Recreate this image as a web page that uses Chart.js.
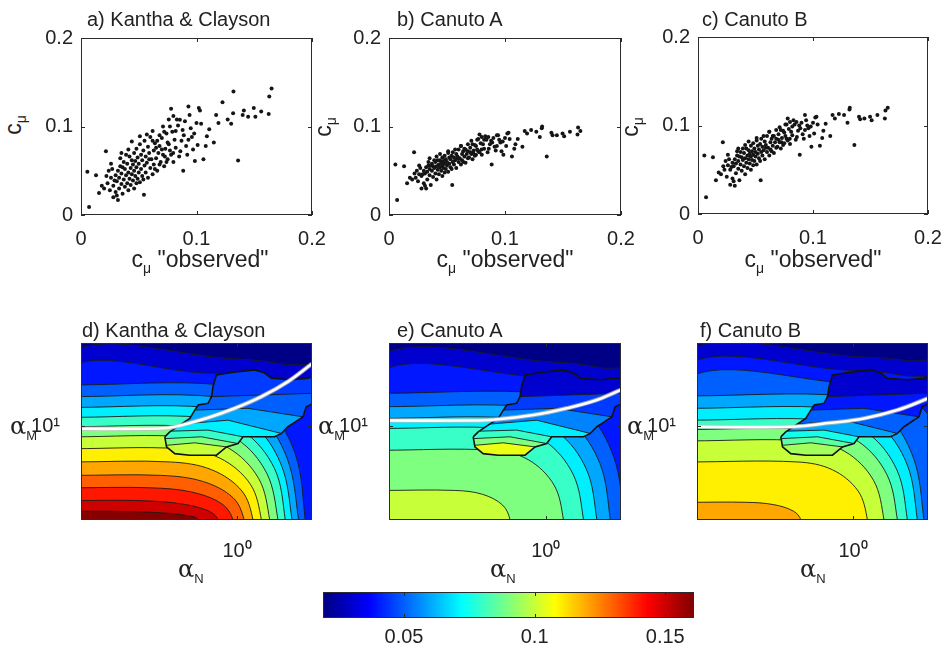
<!DOCTYPE html>
<html>
<head>
<meta charset="utf-8">
<title>c_mu model comparison</title>
<script src="https://cdn.jsdelivr.net/npm/chart.js@4/dist/chart.umd.min.js"></script>
<style>
  body { margin: 0; background: #fff; }
  #fig { position: relative; width: 946px; height: 649px; overflow: hidden;
         font-family: "Liberation Sans", Arial, sans-serif; color: #222; }
  #fig canvas { position: absolute; }
  .t  { position: absolute; font-size: 20px; line-height: 1; white-space: nowrap; }
  .xl { position: absolute; font-size: 23px; line-height: 1; white-space: nowrap; transform: translateX(-50%); }
  .yl { position: absolute; font-size: 23px; line-height: 1; white-space: nowrap; transform: translate(-50%, -50%) rotate(-90deg); }
  .al { position: absolute; font-family: "DejaVu Serif", serif; font-size: 24px; line-height: 1; white-space: nowrap; }
  .xl sub, .yl sub { font-size: 14px; }
  .al sub { font-family: "Liberation Sans", Arial, sans-serif; font-size: 13px; }
</style>
</head>
<body>
<div id="fig">
  <canvas id="pa" width="310" height="225" style="left:30px;top:25px"></canvas>
  <canvas id="pb" width="311" height="225" style="left:338px;top:25px"></canvas>
  <canvas id="pc" width="299" height="225" style="left:647px;top:24px"></canvas>
  <canvas id="pd" width="310" height="242" style="left:30px;top:333px"></canvas>
  <canvas id="pe" width="311" height="242" style="left:338px;top:333px"></canvas>
  <canvas id="pf" width="300" height="242" style="left:646px;top:333px"></canvas>
  <canvas id="cb" width="419" height="67" style="left:300px;top:582px"></canvas>

  <div class="t" style="left:87px;top:9px">a) Kantha &amp; Clayson</div>
  <div class="t" style="left:397px;top:9px">b) Canuto A</div>
  <div class="t" style="left:702px;top:9px">c) Canuto B</div>
  <div class="t" style="left:82px;top:320px">d) Kantha &amp; Clayson</div>
  <div class="t" style="left:397px;top:320px">e) Canuto A</div>
  <div class="t" style="left:700px;top:320px">f) Canuto B</div>

  <div class="yl" style="left:15px;top:125px">c<sub>μ</sub></div>
  <div class="yl" style="left:325px;top:127px">c<sub>μ</sub></div>
  <div class="yl" style="left:632px;top:127px">c<sub>μ</sub></div>
  <div class="xl" style="left:200px;top:248px">c<sub>μ</sub> "observed"</div>
  <div class="xl" style="left:505px;top:248px">c<sub>μ</sub> "observed"</div>
  <div class="xl" style="left:813px;top:248px">c<sub>μ</sub> "observed"</div>

  <div class="al" style="left:10px;top:414px">α<sub>M</sub></div>
  <div class="al" style="left:318px;top:414px">α<sub>M</sub></div>
  <div class="al" style="left:627px;top:414px">α<sub>M</sub></div>
  <div class="al" style="left:178px;top:557px">α<sub>N</sub></div>
  <div class="al" style="left:490px;top:557px">α<sub>N</sub></div>
  <div class="al" style="left:800px;top:557px">α<sub>N</sub></div>
</div>
<script>
// ---- scatter data: c_mu observed (shared x) and model values ----
const cmuObserved = [0.007,0.0055,0.013,0.0216,0.0156,0.0545,0.0885,0.136,0.163,0.165,
  0.1625,0.141,0.1496,0.151,0.1447,0.1317,0.130,0.117,0.115,0.108,
  0.109,0.104,0.106,0.0986,0.097,0.093,0.098,0.088,0.0856,0.078,
  0.093,0.102,0.1225,0.132,0.081,0.077,0.071,0.0798,0.0726,0.100,
  0.095,0.083,0.089,0.075,0.068,0.082,0.091,0.086,0.065,0.062,
  0.020,0.023,0.025,0.026,0.028,0.028,0.030,0.030,0.031,0.032,
  0.033,0.033,0.034,0.035,0.035,0.036,0.037,0.037,0.038,0.038,
  0.039,0.040,0.040,0.041,0.041,0.042,0.042,0.043,0.043,0.044,
  0.044,0.045,0.045,0.046,0.046,0.047,0.047,0.048,0.048,0.049,
  0.049,0.050,0.050,0.051,0.051,0.052,0.052,0.053,0.053,0.054,
  0.055,0.055,0.056,0.056,0.057,0.058,0.058,0.059,0.060,0.060,
  0.061,0.062,0.063,0.063,0.064,0.065,0.066,0.067,0.068,0.069,
  0.070,0.071,0.072,0.073,0.074,0.075,0.076,0.077,0.079,0.080,
  0.080,0.082,0.084,0.085,0.087,0.090,0.092,0.094,0.096,0.101,
  0.103,0.111,0.119,0.127,0.140,0.156,0.024,0.027,0.029,0.031,
  0.034,0.036,0.039,0.041,0.044,0.046,0.048,0.051,0.054,0.057,
  0.059,0.062,0.064,0.066,0.068,0.070,0.072,0.074,0.076,0.078,
  0.035,0.022,0.018,0.026,0.032];
const cmuKanthaClayson = [0.009,0.049,0.045,0.072,0.025,0.023,0.050,0.0615,0.134,0.143,
  0.114,0.118,0.121,0.111,0.111,0.115,0.103,0.113,0.082,0.078,
  0.089,0.103,0.063,0.061,0.074,0.085,0.092,0.096,0.1075,0.120,
  0.1226,0.121,0.1275,0.1396,0.085,0.100,0.100,0.070,0.066,0.104,
  0.098,0.108,0.090,0.082,0.090,0.095,0.078,0.072,0.076,0.084,
  0.030,0.036,0.028,0.042,0.020,0.033,0.045,0.026,0.038,0.050,
  0.030,0.042,0.055,0.035,0.047,0.024,0.040,0.060,0.052,0.032,
  0.045,0.036,0.058,0.048,0.028,0.066,0.041,0.053,0.034,0.062,
  0.046,0.057,0.039,0.070,0.050,0.044,0.061,0.054,0.075,0.041,
  0.065,0.048,0.058,0.080,0.037,0.052,0.068,0.062,0.044,0.073,
  0.056,0.084,0.048,0.066,0.059,0.077,0.042,0.070,0.053,0.088,
  0.063,0.046,0.073,0.057,0.081,0.064,0.050,0.070,0.078,0.060,
  0.087,0.068,0.055,0.075,0.092,0.063,0.108,0.073,0.094,0.112,
  0.060,0.076,0.101,0.066,0.084,0.106,0.068,0.113,0.088,0.079,
  0.118,0.097,0.104,0.108,0.113,0.117,0.050,0.052,0.039,0.022,
  0.064,0.054,0.068,0.074,0.083,0.030,0.036,0.089,0.040,0.091,
  0.063,0.095,0.052,0.084,0.057,0.074,0.094,0.060,0.080,0.068,
  0.070,0.044,0.033,0.058,0.017];
const cmuCanutoA = [0.017,0.057,0.055,0.071,0.036,0.034,0.057,0.066,0.099,0.095,
  0.091,0.090,0.092,0.089,0.090,0.098,0.088,0.095,0.077,0.075,
  0.080,0.086,0.066,0.068,0.072,0.078,0.083,0.084,0.088,0.091,
  0.090,0.092,0.096,0.100,0.080,0.086,0.084,0.074,0.070,0.087,
  0.085,0.089,0.082,0.078,0.080,0.085,0.077,0.075,0.075,0.078,
  0.040,0.042,0.038,0.046,0.030,0.044,0.050,0.036,0.047,0.054,
  0.040,0.049,0.056,0.045,0.052,0.034,0.050,0.058,0.055,0.043,
  0.053,0.047,0.060,0.055,0.040,0.062,0.051,0.057,0.046,0.062,
  0.054,0.059,0.050,0.065,0.056,0.053,0.061,0.058,0.067,0.052,
  0.063,0.056,0.060,0.070,0.049,0.058,0.065,0.063,0.054,0.067,
  0.060,0.071,0.057,0.065,0.062,0.069,0.053,0.066,0.060,0.074,
  0.064,0.057,0.069,0.062,0.072,0.066,0.059,0.069,0.072,0.065,
  0.076,0.069,0.063,0.073,0.079,0.068,0.085,0.072,0.081,0.088,
  0.068,0.075,0.085,0.071,0.080,0.087,0.073,0.090,0.082,0.078,
  0.093,0.086,0.092,0.094,0.093,0.094,0.050,0.053,0.046,0.033,
  0.060,0.056,0.062,0.066,0.069,0.044,0.048,0.072,0.052,0.074,
  0.064,0.078,0.060,0.074,0.064,0.071,0.080,0.067,0.074,0.071,
  0.064,0.047,0.042,0.056,0.030];
const cmuCanutoB = [0.019,0.066,0.064,0.081,0.038,0.038,0.067,0.078,0.117,0.120,
  0.108,0.107,0.110,0.106,0.108,0.118,0.103,0.112,0.088,0.086,
  0.094,0.101,0.077,0.076,0.088,0.095,0.099,0.100,0.104,0.108,
  0.112,0.109,0.113,0.120,0.093,0.101,0.098,0.085,0.081,0.103,
  0.100,0.106,0.097,0.092,0.095,0.099,0.090,0.087,0.088,0.093,
  0.045,0.050,0.042,0.055,0.033,0.050,0.058,0.040,0.054,0.062,
  0.046,0.057,0.066,0.051,0.060,0.038,0.056,0.070,0.064,0.049,
  0.061,0.054,0.069,0.063,0.045,0.074,0.058,0.066,0.052,0.072,
  0.062,0.068,0.057,0.077,0.065,0.061,0.071,0.067,0.080,0.060,
  0.074,0.065,0.070,0.083,0.056,0.068,0.077,0.073,0.063,0.079,
  0.070,0.085,0.066,0.076,0.072,0.082,0.062,0.078,0.070,0.088,
  0.075,0.066,0.081,0.073,0.085,0.077,0.069,0.081,0.085,0.076,
  0.090,0.081,0.074,0.086,0.094,0.080,0.101,0.085,0.096,0.104,
  0.079,0.089,0.101,0.084,0.094,0.103,0.085,0.106,0.097,0.091,
  0.110,0.102,0.108,0.112,0.110,0.112,0.060,0.062,0.053,0.037,
  0.071,0.065,0.074,0.078,0.082,0.050,0.055,0.086,0.060,0.088,
  0.075,0.093,0.071,0.088,0.075,0.084,0.095,0.078,0.088,0.083,
  0.074,0.054,0.047,0.067,0.032];
const scatterRange = [0, 0.2];
const scatterTicks = [0, 0.1, 0.2];

// ---- contour panels, in log10 units of alpha_N (x) and alpha_M (y) ----
const logNRange = [-1, 0.48];
const logMRange = [0.47, 1.47];
const alphaNTicks = [1];
const alphaMTicks = [10];
const baseLevel = 0.02;

// level = c_mu value of the band below/left of each contour line
const levelsD = [0.03,0.04,0.05,0.06,0.07,0.08,0.09,0.10,0.11,0.12,0.13,0.14,0.15,0.16];
const contoursD = [
  [[-1.1,1.385],[0.0,1.38],[0.3,1.35],[0.6,1.30]],
  [[-1.1,1.303],[-0.2,1.30],[0.2,1.27],[0.45,1.15],[0.6,1.05]],
  [[-1.1,1.233],[-1.05,1.233],[-0.09,1.233],[0.17,1.13],[0.37,0.85],[0.437,0.47],[0.447,0.3]],
  [[-1.1,1.167],[-1.05,1.167],[-0.14,1.167],[0.13,1.074],[0.32,0.82],[0.394,0.47],[0.404,0.3]],
  [[-1.1,1.106],[-1.05,1.106],[-0.18,1.106],[0.09,1.021],[0.28,0.788],[0.352,0.47],[0.362,0.3]],
  [[-1.1,1.05],[-1.05,1.05],[-0.22,1.05],[0.04,0.972],[0.24,0.76],[0.309,0.47],[0.319,0.3]],
  [[-1.1,0.997],[-1.05,0.997],[-0.27,0.997],[0.0,0.926],[0.19,0.734],[0.262,0.47],[0.272,0.3]],
  [[-1.1,0.94],[-1.05,0.94],[-0.32,0.94],[-0.056,0.877],[0.138,0.705],[0.209,0.47],[0.219,0.3]],
  [[-1.1,0.873],[-1.05,0.873],[-0.374,0.873],[-0.109,0.819],[0.085,0.672],[0.156,0.47],[0.166,0.3]],
  [[-1.1,0.798],[-1.05,0.798],[-0.428,0.798],[-0.163,0.754],[0.031,0.634],[0.102,0.47],[0.112,0.3]],
  [[-1.1,0.722],[-1.05,0.722],[-0.485,0.722],[-0.22,0.688],[-0.026,0.596],[0.045,0.47],[0.055,0.3]],
  [[-1.1,0.652],[-1.05,0.652],[-0.556,0.652],[-0.291,0.628],[-0.097,0.561],[-0.026,0.47],[-0.016,0.3]],
  [[-1.1,0.58],[-1.05,0.58],[-0.652,0.58],[-0.387,0.565],[-0.193,0.525],[-0.122,0.47],[-0.112,0.3]],
  [[-1.1,0.519],[-1.05,0.519],[-0.779,0.519],[-0.514,0.512],[-0.32,0.495],[-0.249,0.47],[-0.239,0.3]]
];
const levelsE = [0.03,0.04,0.05,0.06,0.07,0.08,0.09,0.10];
const contoursE = [
  [[-1.1,1.366],[0.1,1.36],[0.35,1.33],[0.6,1.29]],
  [[-1.1,1.277],[0.0,1.275],[0.3,1.24],[0.6,1.12]],
  [[-1.1,1.186],[-1.05,1.186],[0.0,1.186],[0.25,1.09],[0.433,0.828],[0.5,0.47],[0.51,0.3]],
  [[-1.1,1.11],[-1.05,1.11],[-0.088,1.11],[0.162,1.024],[0.345,0.79],[0.412,0.47],[0.422,0.3]],
  [[-1.1,1.044],[-1.05,1.044],[-0.174,1.044],[0.076,0.967],[0.259,0.757],[0.326,0.47],[0.336,0.3]],
  [[-1.1,0.987],[-1.05,0.987],[-0.259,0.987],[-0.009,0.918],[0.174,0.729],[0.241,0.47],[0.251,0.3]],
  [[-1.1,0.864],[-1.05,0.864],[-0.337,0.864],[-0.112,0.811],[0.053,0.667],[0.113,0.47],[0.123,0.3]],
  [[-1.1,0.637],[-1.05,0.637],[-0.578,0.637],[-0.403,0.615],[-0.275,0.554],[-0.228,0.47],[-0.218,0.3]]
];
const levelsF = [0.03,0.04,0.05,0.06,0.07,0.08,0.09,0.10,0.11,0.12];
const contoursF = [
  [[-1.1,1.394],[0.1,1.39],[0.35,1.37],[0.6,1.34]],
  [[-1.1,1.318],[0.0,1.315],[0.3,1.29],[0.6,1.22]],
  [[-1.1,1.243],[0.0,1.24],[0.3,1.19],[0.5,1.05],[0.6,0.9]],
  [[-1.1,1.171],[-1.05,1.171],[-0.046,1.171],[0.204,1.077],[0.387,0.82],[0.454,0.47],[0.464,0.3]],
  [[-1.1,1.101],[-1.05,1.101],[-0.088,1.101],[0.162,1.016],[0.345,0.786],[0.412,0.47],[0.422,0.3]],
  [[-1.1,1.034],[-1.05,1.034],[-0.152,1.034],[0.098,0.958],[0.281,0.752],[0.348,0.47],[0.358,0.3]],
  [[-1.1,0.981],[-1.05,0.981],[-0.216,0.981],[0.034,0.913],[0.217,0.726],[0.284,0.47],[0.294,0.3]],
  [[-1.1,0.917],[-1.05,0.917],[-0.302,0.917],[-0.052,0.857],[0.131,0.694],[0.198,0.47],[0.208,0.3]],
  [[-1.1,0.798],[-1.05,0.798],[-0.358,0.798],[-0.133,0.754],[0.032,0.634],[0.092,0.47],[0.102,0.3]],
  [[-1.1,0.57],[-1.05,0.57],[-0.685,0.57],[-0.51,0.557],[-0.382,0.52],[-0.335,0.47],[-0.325,0.3]]
];

// region covered by the observations (irregular patch) and its inner stripes
const blobEdge = [[-0.463,0.940],[-0.431,0.968],[-0.377,1.000],[-0.303,1.044],[-0.271,1.091],
  [-0.249,1.120],[-0.186,1.129],[-0.164,1.167],[-0.154,1.224],[-0.132,1.290],
  [-0.036,1.303],[0.113,1.318],[0.177,1.300],[0.220,1.271],[0.348,1.262],
  [0.454,1.271],[0.49,1.281],[0.49,1.129],[0.443,1.110],[0.422,1.053],
  [0.326,0.997],[0.284,0.959],[0.241,0.940],[0.038,0.940],[0.006,0.902],
  [-0.068,0.883],[-0.132,0.836],[-0.303,0.836],[-0.399,0.845],[-0.452,0.883]];
const blobCuts = [
  { cut: [[-0.164,1.167],[0.49,1.186]], from: 17, to: 6 },
  { cut: [[-0.271,1.091],[0.070,1.101],[0.422,1.053]], from: 20, to: 3 },
  { cut: [[-0.356,1.012],[-0.058,1.034],[0.284,0.959]], from: 22, to: 2 },
  { cut: [[-0.420,0.972],[-0.186,0.978],[0.038,0.940]], from: 24, to: 1 },
  { cut: [[-0.458,0.930],[-0.228,0.940],[0.006,0.902]], from: 25, to: 29 },
  { cut: [[-0.452,0.892],[-0.271,0.906],[-0.068,0.883]], from: 26, to: 29 }
];
const blobLevelsD = [0.045,0.05,0.06,0.07,0.08,0.09,0.10];
const blobLevelsE = [0.03,0.045,0.055,0.07,0.08,0.09,0.105];
const blobLevelsF = [0.03,0.04,0.05,0.06,0.075,0.085,0.095];

// white model curve
const whiteD = [[-1.1,0.985],[-0.5,0.987],[-0.399,0.997],[-0.186,1.048],[-0.015,1.101],[0.156,1.167],[0.326,1.252],[0.48,1.353],[0.6,1.43]];
const whiteE = [[-1.1,1.032],[-0.5,1.032],[-0.335,1.036],[-0.079,1.063],[0.134,1.101],[0.326,1.148],[0.48,1.205],[0.6,1.24]];
const whiteF = [[-1.1,0.997],[-0.4,0.997],[-0.143,1.019],[0.070,1.044],[0.284,1.091],[0.48,1.157],[0.6,1.2]];

// colour bar
const cMin = 0.019, cMax = 0.161;
const cbarTicks = [0.05, 0.1, 0.15];

// ---- helpers ----
const jetStops = [[0,'#000080'],[0.125,'#0000ff'],[0.375,'#00ffff'],[0.625,'#ffff00'],[0.875,'#ff0000'],[1,'#800000']];
function jet(v) {
  const t = Math.min(1, Math.max(0, (v - cMin) / (cMax - cMin)));
  const ch = k => Math.round(255 * Math.min(1, Math.max(0, 1.5 - Math.abs(4 * t - k))));
  return 'rgb(' + ch(3) + ',' + ch(2) + ',' + ch(1) + ')';
}
const sup = {0: '\u2070', 1: '\u00b9'};
const logLabel = v => '10' + sup[Math.round(Math.log10(v))];
const P = p => ({ x: Math.pow(10, p[0]), y: Math.pow(10, p[1]) });

Chart.defaults.font.family = '"Liberation Sans", Arial, sans-serif';
Chart.defaults.font.size = 20;
Chart.defaults.color = '#222';
Chart.defaults.elements.line.capBezierPoints = false;

const framePlugin = {
  id: 'frame',
  afterDatasetsDraw(chart) {
    const { ctx, chartArea: a, scales } = chart;
    ctx.save();
    ctx.strokeStyle = '#2b2b2b';
    ctx.lineWidth = 1;
    ctx.strokeRect(a.left + 0.5, a.top + 0.5, a.width - 1, a.height - 1);
    ctx.beginPath();
    const sx = scales.x, sy = scales.y;
    if (sx && sx.options.display) sx.ticks.forEach(t => {
      const p = Math.round(sx.getPixelForValue(t.value)) + 0.5;
      ctx.moveTo(p, a.bottom); ctx.lineTo(p, a.bottom - 4);
      ctx.moveTo(p, a.top); ctx.lineTo(p, a.top + 4);
    });
    if (sy && sy.options.display) sy.ticks.forEach(t => {
      const p = Math.round(sy.getPixelForValue(t.value)) + 0.5;
      ctx.moveTo(a.left, p); ctx.lineTo(a.left + 4, p);
      ctx.moveTo(a.right, p); ctx.lineTo(a.right - 4, p);
    });
    ctx.stroke();
    ctx.restore();
  }
};

// fixed axis boxes so every plot area lands where the figure has it
function noPad(s) { s.paddingLeft = 0; s.paddingRight = 0; s.paddingTop = 0; s.paddingBottom = 0; }

function baseOptions(box, scales) {
  ['x', 'y'].forEach(k => {
    Object.assign(scales[k], { grid: { display: false, drawTicks: false }, border: { display: false } });
  });
  scales.x.ticks.maxRotation = 0;
  scales.x.ticks.autoSkip = false;
  scales.x.afterFit = s => { s.height = box.xH; noPad(s); };
  scales.y.afterFit = s => { s.width = box.yW; noPad(s); };
  return {
    responsive: false, animation: false, events: [],
    layout: { padding: { left: 0, top: box.top, right: box.right, bottom: 0 } },
    plugins: { legend: { display: false }, tooltip: { enabled: false } },
    scales: scales
  };
}

function scatterPanel(id, ys, box) {
  return new Chart(document.getElementById(id), {
    type: 'scatter',
    data: { datasets: [{
      data: cmuObserved.map((x, i) => ({ x: x, y: ys[i] })),
      pointRadius: 2, pointBackgroundColor: '#151515', pointBorderWidth: 0
    }] },
    options: baseOptions(box, {
      x: { type: 'linear', min: scatterRange[0], max: scatterRange[1],
           afterBuildTicks: s => { s.ticks = scatterTicks.map(v => ({ value: v })); },
           ticks: { padding: 12, callback: v => String(v) } },
      y: { type: 'linear', min: scatterRange[0], max: scatterRange[1],
           afterBuildTicks: s => { s.ticks = scatterTicks.map(v => ({ value: v })); },
           ticks: { padding: 8, callback: v => String(v) } }
    }),
    plugins: [framePlugin]
  });
}

// fill polygons need first point leftmost and last point rightmost
function shapeOrder(ring) {
  let iMin = 0, iMax = 0;
  ring.forEach((p, i) => { if (p[0] < ring[iMin][0]) iMin = i; if (p[0] > ring[iMax][0]) iMax = i; });
  const r = ring.slice(iMin).concat(ring.slice(0, iMin));
  return r.concat([r[0], ring[iMax]]);
}
function cutRing(c) {
  const edge = c.to >= c.from ? blobEdge.slice(c.from, c.to + 1)
                              : blobEdge.slice(c.from).concat(blobEdge.slice(0, c.to + 1));
  return c.cut.concat(edge);
}

function contourPanel(id, levels, lines, blobLevels, white, box) {
  const sets = [];
  const line = { showLine: true, pointRadius: 0 };
  sets.push(Object.assign({ data: [[-1.1,0.3],[-1.1,1.6],[0.6,1.6],[0.6,0.3]].map(P),
    fill: 'shape', backgroundColor: jet(baseLevel), borderWidth: 0, tension: 0 }, line));
  lines.forEach((pts, k) => {
    const ring = [[-1.1, 0.3]].concat(pts);
    const last = pts[pts.length - 1];
    if (last[1] > 0.3) ring.push([last[0], 0.3]);
    sets.push(Object.assign({ data: ring.map(P), fill: 'shape', backgroundColor: jet(levels[k]),
      borderColor: '#1b1b1b', borderWidth: 0.9, tension: 0.35 }, line));
  });
  const rings = [blobEdge].concat(blobCuts.map(cutRing));
  rings.forEach((ring, k) => {
    sets.push(Object.assign({ data: shapeOrder(ring).map(P), fill: 'shape',
      backgroundColor: jet(blobLevels[k]), borderWidth: 0, tension: 0 }, line));
  });
  blobCuts.forEach(c => {
    sets.push(Object.assign({ data: c.cut.map(P), fill: false, borderColor: '#1b1b1b', borderWidth: 0.9, tension: 0 }, line));
  });
  sets.push(Object.assign({ data: blobEdge.concat([blobEdge[0]]).map(P), fill: false,
    borderColor: '#111', borderWidth: 1.6, tension: 0 }, line));
  sets.push(Object.assign({ data: white.map(P), fill: false, borderColor: 'rgba(190,190,190,0.7)', borderWidth: 4.5, tension: 0.4 }, line));
  sets.push(Object.assign({ data: white.map(P), fill: false, borderColor: '#ffffff', borderWidth: 2.6, tension: 0.4 }, line));
  sets.forEach((s, i) => { s.order = sets.length - i; });

  return new Chart(document.getElementById(id), {
    type: 'scatter',
    data: { datasets: sets },
    options: baseOptions(box, {
      x: { type: 'logarithmic', min: Math.pow(10, logNRange[0]), max: Math.pow(10, logNRange[1]),
           afterBuildTicks: s => { s.ticks = alphaNTicks.map(v => ({ value: v })); },
           ticks: { padding: 19, callback: v => logLabel(v) } },
      y: { type: 'logarithmic', min: Math.pow(10, logMRange[0]), max: Math.pow(10, logMRange[1]),
           afterBuildTicks: s => { s.ticks = alphaMTicks.map(v => ({ value: v })); },
           ticks: { padding: 21, callback: v => logLabel(v) } }
    }),
    plugins: [framePlugin]
  });
}

scatterPanel('pa', cmuKanthaClayson, { top: 13, right: 28, yW: 51, xH: 35 });
scatterPanel('pb', cmuCanutoA,       { top: 13, right: 28, yW: 51, xH: 35 });
scatterPanel('pc', cmuCanutoB,       { top: 13, right: 18, yW: 51, xH: 35 });

contourPanel('pd', levelsD, contoursD, blobLevelsD, whiteD, { top: 10, right: 28, yW: 51, xH: 55 });
contourPanel('pe', levelsE, contoursE, blobLevelsE, whiteE, { top: 10, right: 28, yW: 51, xH: 55 });
contourPanel('pf', levelsF, contoursF, blobLevelsF, whiteF, { top: 10, right: 18, yW: 51, xH: 55 });

new Chart(document.getElementById('cb'), {
  type: 'bar',
  data: { labels: [''], datasets: [{
    data: [[cMin, cMax]],
    backgroundColor: c => {
      const a = c.chart.chartArea;
      if (!a) return '#0000ff';
      const g = c.chart.ctx.createLinearGradient(a.left, 0, a.right, 0);
      jetStops.forEach(s => g.addColorStop(s[0], s[1]));
      return g;
    },
    borderWidth: 0, barPercentage: 1, categoryPercentage: 1
  }] },
  options: {
    indexAxis: 'y', responsive: false, animation: false, events: [],
    layout: { padding: { left: 23, top: 10, right: 25, bottom: 0 } },
    plugins: { legend: { display: false }, tooltip: { enabled: false } },
    scales: {
      x: { type: 'linear', min: cMin, max: cMax,
           grid: { display: false, drawTicks: false }, border: { display: false },
           afterBuildTicks: s => { s.ticks = cbarTicks.map(v => ({ value: v })); },
           ticks: { padding: 7, maxRotation: 0, autoSkip: false, callback: v => String(v) },
           afterFit: s => { s.height = 31; noPad(s); } },
      y: { display: false }
    }
  },
  plugins: [framePlugin]
});
</script>
</body>
</html>
